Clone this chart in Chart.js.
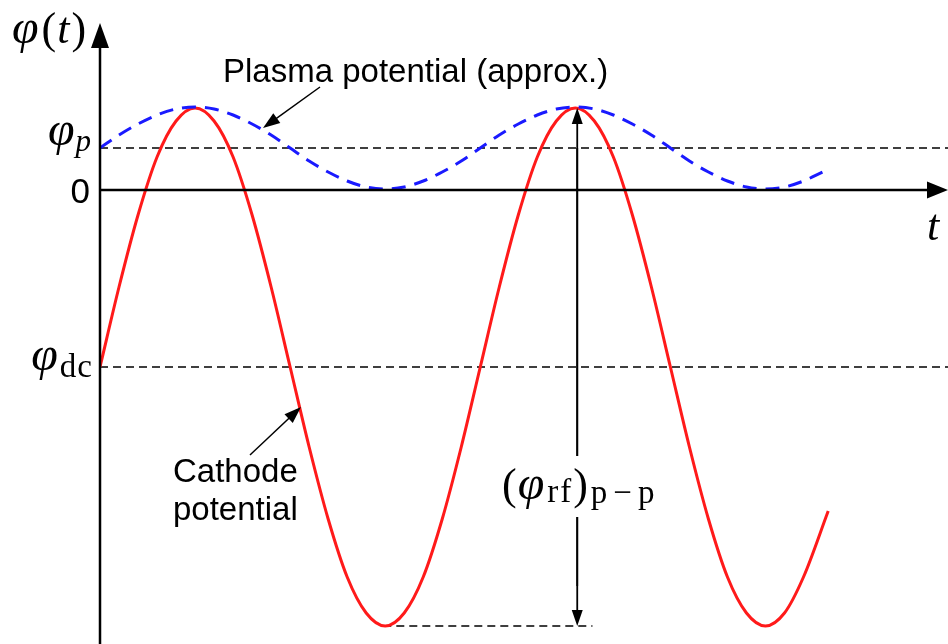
<!DOCTYPE html>
<html>
<head>
<meta charset="utf-8">
<title>RF cathode and plasma potential</title>
<script src="https://cdn.jsdelivr.net/npm/chart.js@4.4.1/dist/chart.umd.min.js"></script>
<style>
  html, body { margin: 0; padding: 0; background: #fff; }
  #wrap { width: 948px; height: 644px; }
</style>
</head>
<body>
<div id="wrap"><canvas id="rfChart" width="948" height="644"></canvas></div>
<script>
// time in rf periods, potentials in arbitrary units (0 = ground)
const timeSteps = [
  0, 0.05, 0.10, 0.15, 0.20, 0.25, 0.30, 0.35, 0.40, 0.45,
  0.50, 0.55, 0.60, 0.65, 0.70, 0.75, 0.80, 0.85, 0.90, 0.95,
  1.00, 1.05, 1.10, 1.15, 1.20, 1.25, 1.30, 1.35, 1.40, 1.45,
  1.50, 1.55, 1.60, 1.65, 1.70, 1.75, 1.80, 1.85, 1.90
];
const plasmaPhi = [
  0.42, 0.55, 0.66, 0.75, 0.81, 0.83, 0.81, 0.75, 0.66, 0.55,
  0.42, 0.29, 0.18, 0.09, 0.03, 0.01, 0.03, 0.09, 0.18, 0.29,
  0.42, 0.55, 0.66, 0.75, 0.81, 0.83, 0.81, 0.75, 0.66, 0.55,
  0.42, 0.29, 0.18, 0.09, 0.03, 0.01, 0.03, 0.09, 0.18
];
// cathode trace stops a little later than the plasma one
const cathodeTimes = timeSteps.slice(0, 38).concat([1.915]);
const cathodePhi = [
  -1.77, -0.97, -0.25, 0.33, 0.69, 0.82, 0.69, 0.33, -0.25, -0.97,
  -1.77, -2.57, -3.29, -3.87, -4.23, -4.36, -4.23, -3.87, -3.29, -2.57,
  -1.77, -0.97, -0.25, 0.33, 0.69, 0.82, 0.69, 0.33, -0.25, -0.97,
  -1.77, -2.57, -3.29, -3.87, -4.23, -4.36, -4.23, -3.87, -3.21
];

const phiP = 0.42;        // plasma potential level
const phiDC = -1.77;      // dc self-bias
const rfPeak = 0.82;
const rfTrough = -4.36;
const troughLineT = [0.745, 1.295];
const ppArrowT = 1.255;   // where the peak-to-peak arrow sits
const tMax = 2.23;

const toXY = (ts, vs) => ts.map((t, i) => ({ x: t, y: vs[i] }));

const SERIF = '"Liberation Serif", "DejaVu Serif", serif';
const SANS = '"Liberation Sans", Arial, sans-serif';

// filled arrow head pointing from (x0,y0) to (x1,y1)
function arrowHead(c, x0, y0, x1, y1, len, half) {
  const a = Math.atan2(y1 - y0, x1 - x0);
  c.beginPath();
  c.moveTo(x1, y1);
  c.lineTo(x1 - len * Math.cos(a) + half * Math.sin(a), y1 - len * Math.sin(a) - half * Math.cos(a));
  c.lineTo(x1 - len * Math.cos(a) - half * Math.sin(a), y1 - len * Math.sin(a) + half * Math.cos(a));
  c.closePath();
  c.fill();
}

function arrow(c, x0, y0, x1, y1, width, len, half) {
  const a = Math.atan2(y1 - y0, x1 - x0);
  c.lineWidth = width;
  c.beginPath();
  c.moveTo(x0, y0);
  c.lineTo(x1 - len * 0.8 * Math.cos(a), y1 - len * 0.8 * Math.sin(a));
  c.stroke();
  arrowHead(c, x0, y0, x1, y1, len, half);
}

// text made of pieces in different fonts, each with its own baseline shift
function richText(c, x, y, parts, align) {
  const widthOf = p => {
    c.font = p.font;
    c.letterSpacing = p.ls || '0px';
    return c.measureText(p.t).width + (p.gap || 0);
  };
  const w = parts.reduce((s, p) => s + widthOf(p), 0);
  let cx = align === 'right' ? x - w : (align === 'center' ? x - w / 2 : x);
  c.textAlign = 'left';
  c.textBaseline = 'alphabetic';
  parts.forEach(p => {
    const pw = widthOf(p);
    c.fillText(p.t, cx, y + (p.dy || 0));
    cx += pw;
  });
  c.letterSpacing = '0px';
}

const sketchPlugin = {
  id: 'sketch',
  afterDatasetsDraw(chart) {
    const c = chart.ctx;
    const xs = chart.scales.x, ys = chart.scales.y;
    const area = chart.chartArea;
    const x0 = xs.getPixelForValue(0);
    const y0 = ys.getPixelForValue(0);
    c.save();
    c.fillStyle = '#000';
    c.strokeStyle = '#000';

    // axes with arrow heads
    c.lineWidth = 2.5;
    c.beginPath();
    c.moveTo(x0, area.bottom);
    c.lineTo(x0, area.top + 20);
    c.moveTo(x0, y0);
    c.lineTo(area.right - 16, y0);
    c.stroke();
    arrowHead(c, x0, area.bottom, x0, area.top, 25, 9);
    arrowHead(c, x0, y0, area.right, y0, 21, 8.5);

    // peak-to-peak arrow with a gap for its label
    const ax = xs.getPixelForValue(ppArrowT);
    const yTop = ys.getPixelForValue(rfPeak);
    const yBot = ys.getPixelForValue(rfTrough);
    arrow(c, ax, yBot - 40, ax, yTop, 1.8, 16, 5.5);
    arrow(c, ax, yTop + 40, ax, yBot, 1.8, 16, 5.5);
    c.fillStyle = '#fff';
    c.fillRect(ax - 12, 456, 24, 61);
    c.fillStyle = '#000';
    richText(c, 502, 499, [
      { t: '(', font: '44px ' + SERIF, gap: 1 },
      { t: 'φ', font: 'italic 48px ' + SERIF, gap: 3 },
      { t: 'rf', font: '33px ' + SERIF, dy: 3, ls: '2px' },
      { t: ')', font: '44px ' + SERIF, gap: 3 },
      { t: 'p', font: '33px ' + SERIF, dy: 4, gap: 6 },
      { t: '−', font: '33px ' + SERIF, dy: 4, gap: 6 },
      { t: 'p', font: '33px ' + SERIF, dy: 4 }
    ], 'left');

    // axis labels
    richText(c, 12, 43, [
      { t: 'φ', font: 'italic 48px ' + SERIF, gap: 3 },
      { t: '(', font: '44px ' + SERIF, gap: 1 },
      { t: 't', font: 'italic 44px ' + SERIF, gap: 2 },
      { t: ')', font: '44px ' + SERIF }
    ], 'left');
    richText(c, 933, 240, [{ t: 't', font: 'italic 44px ' + SERIF }], 'center');
    c.font = '35px ' + SANS;
    c.textAlign = 'right';
    c.fillText('0', 90, y0 + 13);
    richText(c, 91, ys.getPixelForValue(phiP) - 3, [
      { t: 'φ', font: 'italic 48px ' + SERIF, gap: 1 },
      { t: 'p', font: 'italic 31px ' + SERIF, dy: 6 }
    ], 'right');
    richText(c, 93, ys.getPixelForValue(phiDC) + 3, [
      { t: 'φ', font: 'italic 48px ' + SERIF, gap: 2 },
      { t: 'dc', font: '33px ' + SERIF, dy: 7, ls: '1px' }
    ], 'right');

    // curve annotations
    c.font = '33px ' + SANS;
    c.textAlign = 'left';
    c.fillText('Plasma potential (approx.)', 223, 82);
    c.fillText('Cathode', 173, 482);
    c.fillText('potential', 173, 520);
    arrow(c, 320, 87, 263, 128, 1.5, 17, 6);
    arrow(c, 250, 455, 301, 407, 1.5, 17, 6);
    c.restore();
  }
};

const refStyle = {
  borderColor: '#000',
  borderWidth: 1.3,
  borderDash: [8, 5],
  pointRadius: 0,
  fill: false,
  order: 2
};

const ctx = document.getElementById('rfChart').getContext('2d');
const rfChart = new Chart(ctx, {
  type: 'line',
  data: {
    datasets: [
      {
        label: 'Plasma potential (approx.)',
        data: toXY(timeSteps, plasmaPhi),
        borderColor: '#1a1aff',
        borderWidth: 3,
        borderDash: [14, 9],
        cubicInterpolationMode: 'monotone',
        pointRadius: 0,
        fill: false,
        order: 0
      },
      {
        label: 'Cathode potential',
        data: toXY(cathodeTimes, cathodePhi),
        borderColor: '#ff1a1a',
        borderWidth: 3,
        cubicInterpolationMode: 'monotone',
        pointRadius: 0,
        fill: false,
        order: 1
      },
      Object.assign({ label: 'phi_p', data: [{ x: 0, y: phiP }, { x: tMax, y: phiP }] }, refStyle),
      Object.assign({ label: 'phi_dc', data: [{ x: 0, y: phiDC }, { x: tMax, y: phiDC }] }, refStyle),
      Object.assign({ label: 'trough', data: [{ x: troughLineT[0], y: rfTrough }, { x: troughLineT[1], y: rfTrough }] }, refStyle)
    ]
  },
  options: {
    responsive: false,
    animation: false,
    devicePixelRatio: 1,
    layout: { padding: { left: 100, right: 0, top: 23, bottom: 0 } },
    scales: {
      x: { type: 'linear', min: 0, max: tMax, display: false },
      y: { type: 'linear', min: -4.54, max: 1.67, display: false }
    },
    plugins: {
      legend: { display: false },
      tooltip: { enabled: false }
    }
  },
  plugins: [sketchPlugin]
});
</script>
</body>
</html>
